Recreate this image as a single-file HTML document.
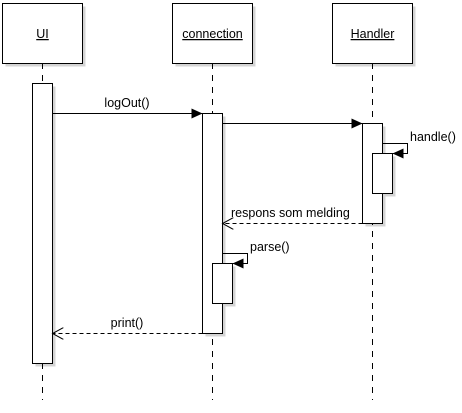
<!DOCTYPE html>
<html><head><meta charset="utf-8"><style>html,body{margin:0;padding:0;background:#fff;}svg{display:block;}</style></head>
<body>
<svg width="462" height="413" viewBox="0 0 462 413" xmlns="http://www.w3.org/2000/svg" font-family="Liberation Sans, Arial, sans-serif" font-size="12.5">
<defs>
<marker id="fa" markerWidth="12" markerHeight="10" refX="11" refY="5" orient="auto" markerUnits="userSpaceOnUse"><path d="M0,0 L11,5 L0,10 z" fill="#000"/></marker>
<marker id="oa" markerWidth="12" markerHeight="12" refX="11" refY="6" orient="auto" markerUnits="userSpaceOnUse"><path d="M0,0 L11,6 L0,12" fill="none" stroke="#000"/></marker>
</defs>
<g fill="#d4d4d4">
<rect x="5.5" y="6.5" width="80" height="60"/><rect x="175.5" y="6.5" width="80" height="60"/><rect x="335.5" y="6.5" width="80" height="60"/>
<rect x="35.5" y="86.5" width="20" height="280"/><rect x="205.5" y="116.5" width="20" height="220"/><rect x="365.5" y="126.5" width="20" height="100"/>
<rect x="375.5" y="156.5" width="20" height="40"/><rect x="215.5" y="266.5" width="20" height="40"/>
</g>
<g stroke="#000" stroke-dasharray="6,6" fill="none">
<line x1="42.5" y1="63" x2="42.5" y2="400"/><line x1="212.5" y1="63" x2="212.5" y2="400"/><line x1="372.5" y1="63" x2="372.5" y2="400"/>
</g>
<g stroke="#000" fill="#fff">
<rect x="2.5" y="3.5" width="80" height="60"/><rect x="172.5" y="3.5" width="80" height="60"/><rect x="332.5" y="3.5" width="80" height="60"/>
<rect x="32.5" y="83.5" width="20" height="280"/><rect x="202.5" y="113.5" width="20" height="220"/><rect x="362.5" y="123.5" width="20" height="100"/>
<rect x="372.5" y="153.5" width="20" height="40"/><rect x="212.5" y="263.5" width="20" height="40"/>
</g>
<g text-anchor="middle" font-size="12.5">
<text x="42.5" y="38" text-decoration="underline">UI</text>
<text x="212.5" y="38" text-decoration="underline">connection</text>
<text x="372.5" y="38" text-decoration="underline">Handler</text>
</g>
<g stroke="#000" fill="none">
<line x1="52.5" y1="113.5" x2="202.5" y2="113.5" marker-end="url(#fa)"/>
<line x1="222.5" y1="123.5" x2="362.5" y2="123.5" marker-end="url(#fa)"/>
<polyline points="382.5,143.5 407.5,143.5 407.5,153.5 392.5,153.5" marker-end="url(#fa)"/>
<line x1="362.5" y1="223.5" x2="222.5" y2="223.5" stroke-dasharray="4,3" marker-end="url(#oa)"/>
<polyline points="222.5,253.5 247.5,253.5 247.5,263.5 232.5,263.5" marker-end="url(#fa)"/>
<line x1="202.5" y1="333.5" x2="52.5" y2="333.5" stroke-dasharray="4,3" marker-end="url(#oa)"/>
</g>
<g fill="#000">
<text x="127" y="107" text-anchor="middle">logOut()</text>
<text x="410" y="141">handle()</text>
<text x="231" y="217">respons som melding</text>
<text x="250" y="251">parse()</text>
<text x="127" y="327" text-anchor="middle">print()</text>
</g>
</svg>
</body></html>
